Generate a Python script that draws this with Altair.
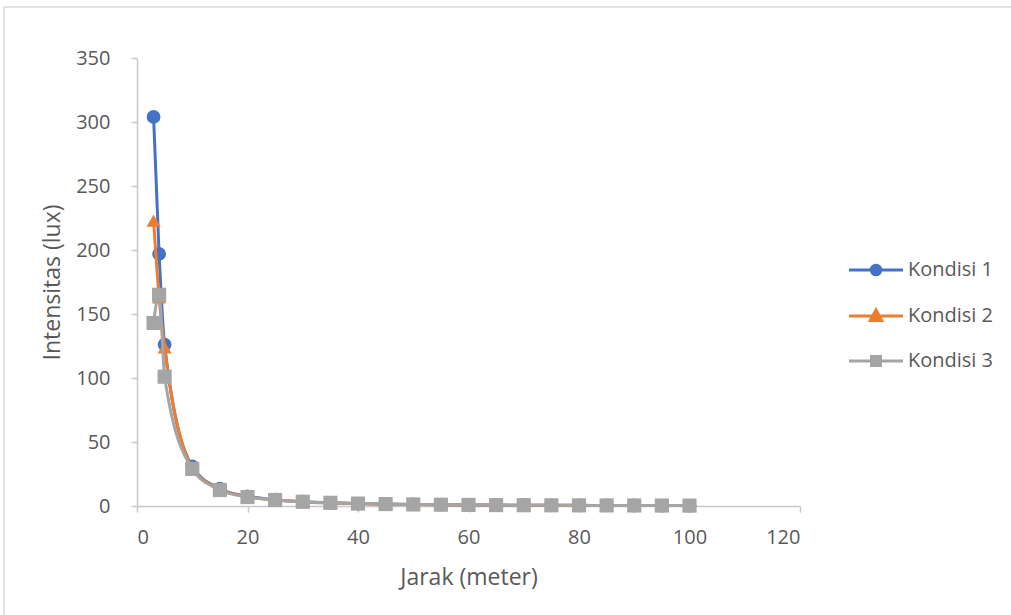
import altair as alt
import pandas as pd

# ---- data ----
jarak = [3, 4, 5, 10, 15, 20, 25, 30, 35, 40, 45, 50, 55, 60, 65, 70, 75, 80, 85, 90, 95, 100]
kondisi1 = [304, 197, 126, 31, 13.5, 7.6, 4.9, 3.4, 2.5, 1.9, 1.5, 1.2, 1.0, 0.85, 0.7, 0.6, 0.55, 0.5, 0.45, 0.4, 0.35, 0.3]
kondisi2 = [223, 163, 124, 30, 13, 7.3, 4.6, 3.2, 2.4, 1.8, 1.4, 1.1, 0.9, 0.8, 0.7, 0.6, 0.5, 0.45, 0.4, 0.35, 0.3, 0.3]
kondisi3 = [143, 165, 101, 29, 12.5, 7.0, 4.7, 3.3, 2.5, 1.9, 1.5, 1.2, 1.0, 0.85, 0.7, 0.6, 0.55, 0.5, 0.45, 0.4, 0.35, 0.3]
series_names = ["Kondisi 1", "Kondisi 2", "Kondisi 3"]
colors = ["#4472C4", "#ED7D31", "#A5A5A5"]
shapes = ["circle", "triangle-up", "square"]
marker_sizes = [190, 200, 200]
x_ticks = [0, 20, 40, 60, 80, 100, 120]
y_ticks = [0, 50, 100, 150, 200, 250, 300, 350]

legend_paths = [
    "M-4.5,0H4.5M0.8,0A0.8,0.8,0,1,1,-0.8,0A0.8,0.8,0,1,1,0.8,0Z",
    "M-4.5,0H4.5M0,-1L0.95,0.75H-0.95Z",
    "M-4.5,0H4.5M-0.75,-0.75H0.75V0.75H-0.75Z",
]

rows = []
for name, vals in zip(series_names, [kondisi1, kondisi2, kondisi3]):
    for xv, yv in zip(jarak, vals):
        rows.append({"jarak": xv, "intensitas": yv, "kondisi": name})
df = pd.DataFrame(rows)

FONT = "Open Sans"
TXT = "#595959"
AX = "#C8C8C8"

x_enc = alt.X(
    "jarak:Q",
    scale=alt.Scale(domain=[0, 120], nice=False, zero=True),
    axis=alt.Axis(
        title="Jarak (meter)", values=x_ticks, grid=False, domainColor=AX, domainWidth=1.5,
        tickColor=AX, tickSize=6, tickWidth=1.5, labelFont=FONT, labelFontSize=20, labelColor=TXT,
        labelPadding=15, titleFont=FONT, titleFontSize=23, titleFontWeight="normal", titleColor=TXT,
        titleY=71, titleX=331.5, titleBaseline="middle", titleAlign="center",
    ),
)
y_enc = alt.Y(
    "intensitas:Q",
    scale=alt.Scale(domain=[0, 350], nice=False),
    axis=alt.Axis(
        title="Intensitas (lux)", values=y_ticks, grid=False, domainColor=AX, domainWidth=1.5,
        tickColor=AX, tickSize=6, tickWidth=1.5, labelFont=FONT, labelFontSize=20, labelColor=TXT,
        labelPadding=21, titleFont=FONT, titleFontSize=23, titleFontWeight="normal", titleColor=TXT,
        titleX=-85, titleY=224, titleBaseline="middle", titleAlign="center", titleAngle=270,
    ),
)
color_scale = alt.Scale(domain=series_names, range=colors)

layers = []
# decorative chart-area frame
frame = alt.Chart(alt.Data(values=[{"a": 1}])).mark_rect(
    fill="transparent", stroke="#D9D9D9", strokeWidth=1.5, clip=False
).encode(x=alt.value(-133), x2=alt.value(880), y=alt.value(-51), y2=alt.value(570))
layers.append(frame)

for name, col, shp, sz in zip(series_names, colors, shapes, marker_sizes):
    base = alt.Chart(df).transform_filter(alt.datum.kondisi == name).encode(x=x_enc, y=y_enc)
    line = base.mark_line(interpolate="monotone", strokeWidth=3, color=col)
    pts = base.mark_point(shape=shp, filled=True, size=sz, opacity=1, color=col)
    layers += [line, pts]

leg = alt.Legend(
    title=None, orient="none", legendX=729, legendY=202, labelFont=FONT, labelFontSize=20,
    labelColor=TXT, symbolSize=144, symbolStrokeWidth=3, labelOffset=22, rowPadding=23,
    padding=0, symbolOpacity=1,
)
legend_layer = alt.Chart(df).transform_filter("datum.jarak < 0").mark_point(
    filled=True, strokeWidth=3
).encode(
    x=x_enc, y=y_enc,
    fill=alt.Fill("kondisi:N", scale=color_scale, legend=leg),
    stroke=alt.Stroke("kondisi:N", scale=color_scale, legend=leg),
    shape=alt.Shape("kondisi:N", scale=alt.Scale(domain=series_names, range=legend_paths), legend=leg),
)
layers.append(legend_layer)

chart = alt.layer(*layers).properties(
    width=663, height=448,
    autosize=alt.AutoSizeParams(type="none"),
    padding={"left": 137, "top": 58, "right": 211, "bottom": 109},
    background="white",
).configure_view(stroke=None)

chart.save("out.html", embed_options={"renderer": "svg", "actions": False})
